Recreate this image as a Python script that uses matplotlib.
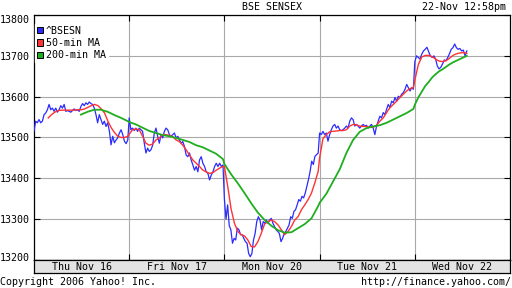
# BSE SENSEX intraday chart, 5 sessions, Yahoo style

import numpy as np
import matplotlib
matplotlib.use('Agg')
import matplotlib.pyplot as plt
from matplotlib.patches import Patch
from matplotlib.transforms import ScaledTranslation

# day labels shown in the gray band
days = ['Thu Nov 16', 'Fri Nov 17', 'Mon Nov 20', 'Tue Nov 21', 'Wed Nov 22']
# trading session 09:55 - 15:30 in minutes, last quote on Wed at 12:58
session_minutes = 335
last_minute = 183

# ^BSESN index level, one list per session
sensex_thu = [13516, 13540, 13536, 13544, 13536, 13540, 13556, 13560, 13568, 13581,
              13568, 13572, 13564, 13572, 13562, 13568, 13578, 13572, 13581, 13564,
              13566, 13564, 13562, 13566, 13570, 13566, 13568, 13564, 13576, 13583,
              13578, 13585, 13581, 13587, 13583, 13581, 13572, 13556, 13536, 13556,
              13544, 13532, 13540, 13527, 13536, 13516, 13482, 13503, 13487, 13494,
              13499, 13511, 13519, 13507, 13491, 13485, 13494]
sensex_fri = [13548, 13519, 13523, 13517, 13523, 13515, 13523, 13519, 13515, 13486,
              13462, 13474, 13466, 13470, 13481, 13511, 13523, 13503, 13486, 13507,
              13499, 13515, 13523, 13519, 13507, 13503, 13507, 13511, 13499, 13503,
              13494, 13486, 13490, 13478, 13457, 13453, 13462, 13445, 13433, 13420,
              13429, 13416, 13445, 13453, 13437, 13429, 13416, 13412, 13396, 13408,
              13416, 13429, 13437, 13429, 13437, 13429, 13433]
sensex_mon = [13349, 13300, 13335, 13284, 13274, 13241, 13253, 13249, 13278, 13274,
              13262, 13262, 13253, 13245, 13241, 13216, 13208, 13216, 13249, 13265,
              13294, 13306, 13298, 13274, 13294, 13290, 13298, 13290, 13298, 13302,
              13290, 13282, 13274, 13270, 13265, 13245, 13253, 13265, 13270, 13278,
              13286, 13306, 13302, 13319, 13323, 13335, 13348, 13344, 13356, 13352,
              13364, 13380, 13397, 13417, 13442, 13434, 13454, 13458, 13462]
sensex_tue = [13511, 13507, 13515, 13507, 13511, 13491, 13507, 13519, 13528, 13532,
              13523, 13528, 13519, 13517, 13519, 13523, 13528, 13523, 13540, 13548,
              13544, 13528, 13532, 13528, 13523, 13528, 13532, 13528, 13530, 13523,
              13528, 13532, 13523, 13507, 13528, 13540, 13552, 13548, 13561, 13556,
              13569, 13581, 13573, 13589, 13585, 13598, 13589, 13601, 13598, 13606,
              13610, 13618, 13630, 13622, 13614, 13622, 13618]
sensex_wed = [13685, 13700, 13696, 13692, 13704, 13712, 13716, 13721, 13710, 13700,
              13696, 13700, 13692, 13675, 13668, 13672, 13680, 13690, 13688, 13696,
              13705, 13716, 13720, 13729, 13720, 13716, 13718, 13712, 13714, 13700,
              13712]

# 50-min moving average, one list per session (Thu starts 50 min after open)
ma50_thu = [13548, 13556, 13562, 13566, 13567, 13567, 13567, 13567, 13567, 13568,
            13568, 13570, 13574, 13578, 13581, 13578, 13570, 13560, 13540, 13524,
            13512, 13503, 13500, 13500, 13503]
ma50_fri = [13508, 13519, 13521, 13519, 13503, 13486, 13481, 13484, 13494, 13499,
            13507, 13507, 13505, 13502, 13494, 13490, 13481, 13470, 13457, 13445,
            13437, 13429, 13420, 13416, 13412, 13414, 13420, 13425, 13429]
ma50_mon = [13429, 13380, 13325, 13290, 13270, 13262, 13259, 13249, 13233, 13232,
            13245, 13265, 13288, 13294, 13298, 13294, 13286, 13274, 13262, 13270,
            13282, 13298, 13306, 13323, 13335, 13348, 13364, 13389, 13417]
ma50_tue = [13450, 13497, 13507, 13514, 13515, 13516, 13517, 13517, 13519, 13528,
            13532, 13531, 13528, 13527, 13527, 13525, 13525, 13530, 13540, 13548,
            13561, 13573, 13581, 13589, 13598, 13606, 13614, 13620, 13622]
ma50_wed = [13640, 13678, 13697, 13701, 13701, 13698, 13692, 13687, 13686, 13688,
            13694, 13701, 13705, 13707, 13708, 13706]

# 200-min moving average, one list per session (Thu starts late in the day)
ma200_thu = [13556, 13563, 13568, 13568, 13563, 13555, 13548, 13540]
ma200_fri = [13538, 13532, 13524, 13516, 13511, 13506, 13503, 13499, 13494, 13489,
             13481, 13476, 13468, 13460, 13447]
ma200_mon = [13435, 13410, 13388, 13364, 13339, 13316, 13298, 13284, 13273, 13267,
             13268, 13278, 13288, 13302, 13332]
ma200_tue = [13340, 13362, 13392, 13422, 13462, 13494, 13514, 13523, 13527, 13530,
             13536, 13544, 13552, 13560, 13570]
ma200_wed = [13580, 13598, 13612, 13626, 13636, 13647, 13655, 13662, 13667, 13673,
             13679, 13684, 13688, 13692, 13696, 13700]

# y axis levels
levels = [13200, 13300, 13400, 13500, 13600, 13700, 13800]

# colors
c_blue = '#2b2bff'
c_red = '#ff3333'
c_green = '#1fae1f'
c_grid = '#a9a9a9'
c_band = '#e3e3e3'


# turn a list of session values into x positions (one unit per session)
def session_x(day, values, start, end):
    return day + np.linspace(start, end, len(values)) / session_minutes


# join the five sessions of one series into one line
def join_days(lists, starts, ends):
    xs = np.concatenate([session_x(i, v, starts[i], ends[i]) for i, v in enumerate(lists)])
    ys = np.concatenate([np.array(v, dtype=float) for v in lists])
    return xs, ys


full = session_minutes - 5
x_px, y_px = join_days([sensex_thu, sensex_fri, sensex_mon, sensex_tue, sensex_wed],
                       [0, 0, 0, 0, 0], [full, full, full, full, last_minute])
x_50, y_50 = join_days([ma50_thu, ma50_fri, ma50_mon, ma50_tue, ma50_wed],
                       [50, 0, 0, 0, 0], [full, full, full, full, last_minute])
x_200, y_200 = join_days([ma200_thu, ma200_fri, ma200_mon, ma200_tue, ma200_wed],
                         [165, 0, 0, 0, 0], [full, full, full, full, last_minute])

# monospace font for every text
plt.rcParams['font.family'] = ['DejaVu Sans Mono']
fs = 7.2

# figure 512x288
fig = plt.figure(figsize=(5.12, 2.88), dpi=100)
fig.patch.set_facecolor('white')

# plot area in pixel terms: x 34..510, y 15..260
W, H = 512.0, 288.0
ax = fig.add_axes([34 / W, 1 - 260 / H, 476 / W, 245 / H])

# draw the lines
ax.plot(x_px, y_px, color=c_blue, lw=0.9, zorder=3)
ax.plot(x_50, y_50, color=c_red, lw=1.0, zorder=4)
ax.plot(x_200, y_200, color=c_green, lw=1.3, zorder=5)

# axes limits
ax.set_xlim(0, len(days))
ax.set_ylim(levels[0], levels[-1])

# ticks and grid
ax.set_xticks(range(1, len(days)))
ax.set_xticklabels([])
ax.set_yticks(levels)
ax.set_yticklabels([str(v) for v in levels], fontsize=fs)
ax.tick_params(direction='in', length=4, width=0.8, color='black',
               top=True, right=True, pad=3)
ax.grid(True, color=c_grid, lw=0.8, zorder=1)
for s in ax.spines.values():
    s.set_linewidth(0.9)
    s.set_color('black')

# nudge the end labels inside the frame height
ylabels = ax.get_yticklabels()
ylabels[0].set_transform(ylabels[0].get_transform() + ScaledTranslation(0, 0.025, fig.dpi_scale_trans))
ylabels[-1].set_transform(ylabels[-1].get_transform() + ScaledTranslation(0, -0.04, fig.dpi_scale_trans))

# legend in the top left corner
handles = [Patch(facecolor=c_blue, edgecolor='black', lw=0.7, label='^BSESN'),
           Patch(facecolor=c_red, edgecolor='black', lw=0.7, label='50-min MA'),
           Patch(facecolor=c_green, edgecolor='black', lw=0.7, label='200-min MA')]
leg = ax.legend(handles=handles, loc='upper left', bbox_to_anchor=(1 / 476, 1 - 9 / 245),
                fontsize=fs, frameon=True,
                fancybox=False, framealpha=1, edgecolor='white', facecolor='white',
                handlelength=0.6, handleheight=0.6, handletextpad=0.35,
                labelspacing=0.25, borderpad=0.15, borderaxespad=0)
leg.set_zorder(6)

# gray band with the day names
band = fig.add_axes([34 / W, 1 - 273 / H, 476 / W, 13 / H])
band.set_facecolor(c_band)
band.set_xlim(0, len(days))
band.set_ylim(0, 1)
band.set_xticks([])
band.set_yticks([])
for s in band.spines.values():
    s.set_linewidth(0.9)
    s.set_color('black')
for i, d in enumerate(days):
    band.text(i + 0.5, 0.45, d, ha='center', va='center', fontsize=fs)

# header and footer texts
fig.text(272 / W, 1 - 7 / H, 'BSE SENSEX', ha='center', va='center', fontsize=fs)
fig.text(506 / W, 1 - 7 / H, '22-Nov 12:58pm', ha='right', va='center', fontsize=fs)
fig.text(0, 1 - 282 / H, 'Copyright 2006 Yahoo! Inc.', ha='left', va='center', fontsize=fs)
fig.text(511 / W, 1 - 282 / H, 'http://finance.yahoo.com/', ha='right', va='center', fontsize=fs)

# save
fig.savefig('out.png', dpi=100)
plt.close()
